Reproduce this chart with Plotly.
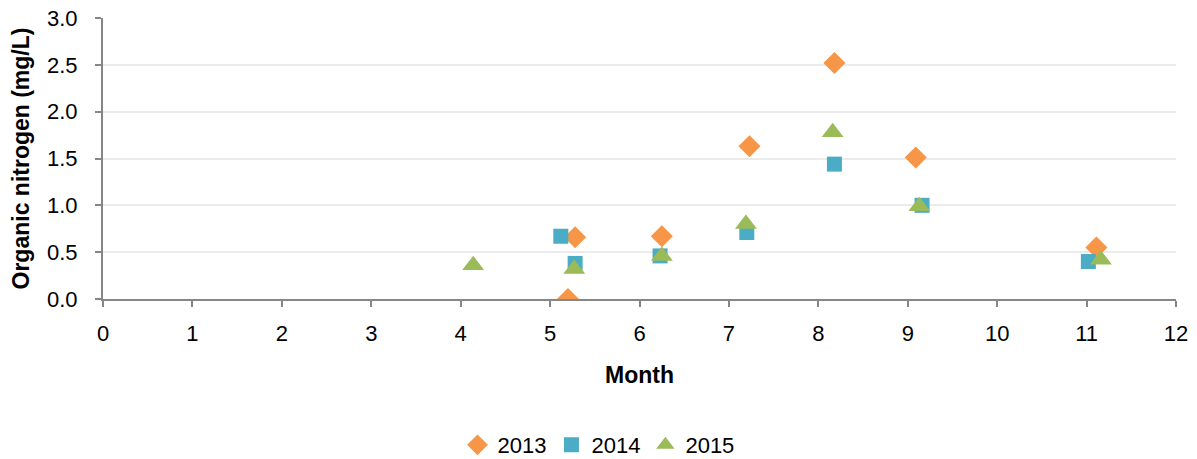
import plotly.graph_objects as go

months_2013 = [5.28, 5.20, 6.25, 7.23, 8.18, 9.09, 11.11]
vals_2013 = [0.66, 0.00, 0.67, 1.63, 2.52, 1.51, 0.55]

months_2014 = [5.12, 5.28, 6.23, 7.20, 8.18, 9.16, 11.02]
vals_2014 = [0.67, 0.38, 0.46, 0.71, 1.44, 1.00, 0.40]

months_2015 = [4.14, 5.27, 6.25, 7.19, 8.16, 9.13, 11.16]
vals_2015 = [0.36, 0.32, 0.46, 0.80, 1.78, 0.99, 0.42]

series = [
    ("2013", months_2013, vals_2013, "diamond", "#F79646", 17),
    ("2014", months_2014, vals_2014, "square", "#4BACC6", 15),
    ("2015", months_2015, vals_2015, "triangle-up", "#9BBB59", 19),
]

fig = go.Figure()
for name, x, y, sym, col, sz in series:
    fig.add_trace(go.Scatter(x=x, y=y, mode="markers", name=name,
                             marker=dict(symbol=sym, color=col, size=sz, line=dict(width=0))))

font = "Liberation Sans, Arial, sans-serif"
fig.update_layout(
    width=1197, height=459,
    margin=dict(l=103, r=21, t=18, b=160),
    paper_bgcolor="white", plot_bgcolor="white",
    font=dict(family=font, size=22, color="#000"),
    showlegend=True,
    legend=dict(orientation="h", xref="container", yref="container",
                x=0.5, xanchor="center", y=1 - 445 / 459, yanchor="middle",
                font=dict(size=22), itemwidth=30, traceorder="normal"),
    xaxis=dict(range=[0, 12], dtick=1, showgrid=False, zeroline=False, automargin=False,
               showline=True, linecolor="#868686", linewidth=2,
               ticks="outside", ticklen=6, tickcolor="#868686", tickwidth=2,
               tickfont=dict(size=22), ticklabelstandoff=8,
               title=dict(text="<b>Month</b>", font=dict(size=23), standoff=21)),
    yaxis=dict(range=[0, 3], dtick=0.5, tickformat=".1f", automargin=False,
               showgrid=True, gridcolor="#EBEBEB", gridwidth=2, zeroline=False,
               showline=True, linecolor="#868686", linewidth=2,
               ticks="outside", ticklen=6, tickcolor="#868686", tickwidth=2,
               tickfont=dict(size=22), ticklabelstandoff=13,
               title=dict(text="<b>Organic nitrogen (mg/L)</b>", font=dict(size=23), standoff=11)),
)

fig.write_html("out.html", config={"displayModeBar": False},
               post_script="document.body.style.margin='0';")
